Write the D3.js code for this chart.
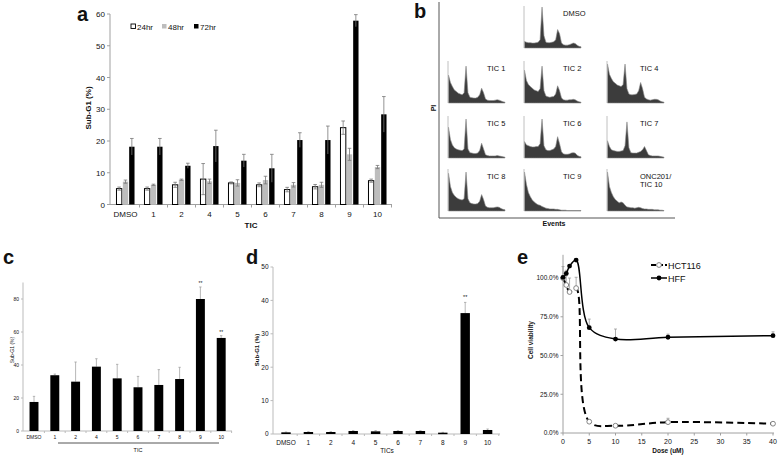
<!DOCTYPE html>
<html><head><meta charset="utf-8">
<script src="https://cdn.jsdelivr.net/npm/d3@7"></script>
<style>body{margin:0;background:#fff} text{font-family:"Liberation Sans",Arial,sans-serif;fill:#111}</style>
</head><body><svg id="fig" width="778" height="455"></svg>
<script>
// ---------- Panel a data ----------
const catsA = ["DMSO","1","2","4","5","6","7","8","9","10"];
const seriesA = ["24hr","48hr","72hr"];
const a24 = [5.0,5.0,6.2,8.0,6.8,6.2,4.7,5.6,24.2,7.5];
const a24err = [0.5,0.5,0.8,4.9,0.3,0.6,0.7,0.7,2.1,0.5];
const a48 = [7.2,6.2,7.8,7.3,6.8,7.7,6.2,6.2,15.8,11.8];
const a48err = [0.5,0.2,0.2,0.7,1.0,1.2,0.7,0.8,1.9,0.5];
const a72 = [18.2,18.2,12.2,18.4,13.8,11.4,20.3,20.3,57.9,28.4];
const a72err = [2.6,2.6,0.8,5.0,2.0,4.4,2.3,4.4,1.9,5.6];
const ticksA = [0,10,20,30,40,50,60];

// ---------- Panel b data (histogram heights, relative) ----------
const histNames = ["DMSO","TIC 1","TIC 2","TIC 4","TIC 5","TIC 6","TIC 7","TIC 8","TIC 9","ONC201/|TIC 10"];
const hDMSO = [0.16,0.14,0.13,0.13,0.12,0.12,0.13,0.14,0.2,1.0,0.3,0.14,0.13,0.13,0.14,0.15,0.2,0.45,0.35,0.12,0.08,0.07,0.07,0.08,0.10,0.12,0.11,0.07,0.04,0.03];
const hTIC1 = [0.68,0.5,0.4,0.32,0.28,0.24,0.22,0.2,0.25,0.9,0.25,0.14,0.13,0.12,0.12,0.14,0.2,0.36,0.25,0.1,0.07,0.06,0.06,0.06,0.07,0.08,0.07,0.05,0.03,0.02];
const hTIC2 = [0.8,0.55,0.45,0.4,0.36,0.32,0.3,0.28,0.35,0.9,0.3,0.17,0.15,0.14,0.15,0.16,0.22,0.42,0.3,0.12,0.08,0.07,0.07,0.08,0.08,0.09,0.08,0.05,0.03,0.02];
const hTIC4 = [0.95,0.7,0.6,0.52,0.48,0.44,0.42,0.4,0.45,0.95,0.35,0.22,0.2,0.2,0.21,0.22,0.3,0.5,0.35,0.14,0.1,0.08,0.07,0.08,0.09,0.09,0.08,0.05,0.03,0.02];
const hTIC5 = [0.75,0.45,0.32,0.25,0.22,0.2,0.19,0.18,0.22,0.95,0.22,0.13,0.12,0.11,0.11,0.12,0.18,0.36,0.22,0.08,0.06,0.05,0.05,0.05,0.05,0.06,0.05,0.04,0.03,0.02];
const hTIC6 = [0.4,0.32,0.3,0.28,0.27,0.27,0.28,0.28,0.35,0.95,0.3,0.2,0.18,0.18,0.2,0.22,0.28,0.52,0.35,0.15,0.1,0.09,0.09,0.1,0.12,0.13,0.12,0.07,0.04,0.03];
const hTIC7 = [0.42,0.28,0.2,0.18,0.17,0.16,0.16,0.17,0.18,0.3,0.88,0.25,0.13,0.12,0.12,0.12,0.14,0.16,0.2,0.28,0.18,0.08,0.06,0.05,0.05,0.05,0.05,0.04,0.03,0.02];
const hTIC8 = [0.92,0.6,0.45,0.38,0.33,0.3,0.28,0.27,0.3,0.95,0.3,0.2,0.18,0.17,0.17,0.18,0.24,0.4,0.28,0.12,0.09,0.08,0.08,0.08,0.09,0.1,0.09,0.06,0.04,0.03];
const hTIC9 = [0.95,0.65,0.45,0.35,0.27,0.22,0.18,0.15,0.14,0.11,0.09,0.07,0.06,0.05,0.05,0.05,0.04,0.04,0.03,0.02,0.02,0.02,0.01,0.01,0.01,0.01,0.01,0.01,0.01,0.01];
const hTIC10 = [0.95,0.6,0.45,0.35,0.28,0.24,0.2,0.22,0.2,0.14,0.1,0.09,0.08,0.08,0.07,0.08,0.09,0.08,0.06,0.05,0.05,0.04,0.04,0.04,0.03,0.03,0.03,0.02,0.02,0.01];
const histData = [hDMSO,hTIC1,hTIC2,hTIC4,hTIC5,hTIC6,hTIC7,hTIC8,hTIC9,hTIC10];

// ---------- Panel c data ----------
const catsC = ["DMSO","1","2","4","5","6","7","8","9","10"];
const valsC = [17.6,33.8,29.9,39.0,31.9,26.5,27.9,31.5,80.0,56.4];
const errC = [3.4,0.7,11.9,4.8,8.5,6.6,9.3,7.1,7.3,1.4];
const sigC = ["","","","","","","","","**","**"];
const ticksC = [0,20,40,60,80];

// ---------- Panel d data ----------
const catsD = ["DMSO","1","2","4","5","6","7","8","9","10"];
const valsD = [0.5,0.6,0.6,0.9,0.8,0.9,0.9,0.4,36.2,1.2];
const errD = [0.1,0.1,0.1,0.1,0.2,0.1,0.1,0.1,3.2,0.3];
const sigD = ["","","","","","","","","**",""];
const ticksD = [0,10,20,30,40,50];

// ---------- Panel e data ----------
const doses = [0,0.625,1.25,2.5,5,10,20,40];
const hct116 = [100,95.5,91,93.5,7.3,4.7,7.0,6.0];
const hct116Err = [0,6,9,7,1,0.5,2.5,1];
const hff = [100.4,103,107.7,111.6,68,60.6,61.8,62.8];
const hffErr = [7,2,1,1,5.5,6.5,2,2.5];
const ticksEy = [0,25,50,75,100];
const ticksEx = [0,5,10,15,20,25,30,35,40];

const svg = d3.select("#fig");
const axisCol = "#a0a0a0";

function letter(txt,x,y){
  svg.append("text").attr("x",x).attr("y",y).attr("font-size",20).attr("font-weight","bold").text(txt);
}

// ================= Panel a =================
{
  const g = svg.append("g");
  const x = d3.scaleBand().domain(catsA).range([111.5,391.5]).paddingInner(0.32).paddingOuter(0.16);
  const xi = d3.scaleBand().domain(seriesA).range([0,x.bandwidth()]);
  const y = d3.scaleLinear().domain([0,60]).range([204.5,14]);
  const vals = [a24,a48,a72], errs=[a24err,a48err,a72err];
  const fills = ["#fff","#bdbdbd","#000"];
  // axes
  g.append("line").attr("x1",110).attr("x2",110).attr("y1",y(60)).attr("y2",y(0)).attr("stroke",axisCol);
  g.append("line").attr("x1",110).attr("x2",392).attr("y1",y(0)).attr("y2",y(0)).attr("stroke",axisCol);
  ticksA.forEach(t=>{
    g.append("line").attr("x1",107).attr("x2",110).attr("y1",y(t)).attr("y2",y(t)).attr("stroke",axisCol);
    g.append("text").attr("x",105).attr("y",y(t)+3).attr("text-anchor","end").attr("font-size",8).text(t);
  });
  const step = x.step();
  catsA.forEach((c,i)=>{
    const bx = x(c) - step*0.16 + step; // boundary to right
    g.append("line").attr("x1",111.5+step*(i+1)).attr("x2",111.5+step*(i+1)).attr("y1",y(0)).attr("y2",y(0)+3).attr("stroke",axisCol);
    g.append("text").attr("x",x(c)+x.bandwidth()/2).attr("y",217).attr("text-anchor","middle").attr("font-size",8).text(c);
  });
  seriesA.forEach((s,k)=>{
    catsA.forEach((c,i)=>{
      const v = vals[k][i], e = errs[k][i];
      const bx = x(c)+xi(s), bw = xi.bandwidth();
      g.append("rect").attr("x",bx+0.5).attr("y",y(v)).attr("width",bw-1).attr("height",y(0)-y(v))
        .attr("fill",fills[k]).attr("stroke",k===0?"#000":"none").attr("stroke-width",1);
      const cx = bx+bw/2;
      g.append("line").attr("x1",cx).attr("x2",cx).attr("y1",y(v+e)).attr("y2",y(Math.max(0,v-e))).attr("stroke","#777").attr("stroke-width",0.8);
      g.append("line").attr("x1",cx-1.8).attr("x2",cx+1.8).attr("y1",y(v+e)).attr("y2",y(v+e)).attr("stroke","#777").attr("stroke-width",0.8);
      if(k<2) g.append("line").attr("x1",cx-1.8).attr("x2",cx+1.8).attr("y1",y(v-e)).attr("y2",y(v-e)).attr("stroke","#777").attr("stroke-width",0.8);
    });
  });
  // legend
  const lx = [131,162,194];
  seriesA.forEach((s,k)=>{
    g.append("rect").attr("x",lx[k]).attr("y",24).attr("width",4.5).attr("height",4.5).attr("fill",fills[k]).attr("stroke",k===0?"#000":"none").attr("stroke-width",0.9);
    g.append("text").attr("x",lx[k]+6).attr("y",29.5).attr("font-size",8).text(s);
  });
  g.append("text").attr("transform","translate(91,108) rotate(-90)").attr("text-anchor","middle").attr("font-size",8).attr("font-weight","bold").text("Sub-G1 (%)");
  g.append("text").attr("x",251).attr("y",228).attr("text-anchor","middle").attr("font-size",8).attr("font-weight","bold").text("TIC");
  letter("a",77,21);
}

// ================= Panel b =================
{
  const g = svg.append("g");
  g.append("line").attr("x1",439).attr("x2",439).attr("y1",2).attr("y2",218).attr("stroke","#555");
  g.append("line").attr("x1",439).attr("x2",675).attr("y1",218).attr("y2",218).attr("stroke","#555");
  g.append("text").attr("transform","translate(436,108) rotate(-90)").attr("text-anchor","middle").attr("font-size",7).attr("font-weight","bold").text("PI");
  g.append("text").attr("x",554).attr("y",226).attr("text-anchor","middle").attr("font-size",7).attr("font-weight","bold").text("Events");
  const colsX = [448,524,607];
  const rowsY = [7,62,117,170];
  const pos = [[1,0],[0,1],[1,1],[2,1],[0,2],[1,2],[2,2],[0,3],[1,3],[2,3]];
  const W = 57, H = 41;
  histData.forEach((d,i)=>{
    const x0 = colsX[pos[i][0]], y0 = rowsY[pos[i][1]];
    const hx = d3.scaleLinear().domain([0,d.length-1]).range([x0+0.5,x0+W]);
    const hy = d3.scaleLinear().domain([0,1]).range([y0+H,y0]);
    const area = d3.area().x((v,j)=>hx(j)).y0(y0+H).y1(v=>hy(v)).curve(d3.curveLinear);
    g.append("path").attr("d",area(d)).attr("fill","#3c3c3c").attr("stroke","#8a8a8a").attr("stroke-width",0.6);
    g.append("line").attr("x1",x0).attr("x2",x0).attr("y1",y0-1).attr("y2",y0+H).attr("stroke","#b0b0b0").attr("stroke-width",0.8);
    const lines = histNames[i].split("|");
    lines.forEach((t,k)=>{
      g.append("text").attr("x",x0+(i===3||i===6||i===9?33:39)).attr("y",y0+9+k*8).attr("font-size",7.5).text(t);
    });
  });
  letter("b",414,18);
}

// ================= Panel c =================
{
  const g = svg.append("g");
  const x = d3.scaleBand().domain(catsC).range([23.6,231.6]).paddingInner(0.57).paddingOuter(0.285);
  const y = d3.scaleLinear().domain([0,90]).range([431,282.5]);
  g.append("line").attr("x1",23).attr("x2",23).attr("y1",y(90)).attr("y2",y(0)).attr("stroke","#bbb");
  g.append("line").attr("x1",23).attr("x2",232).attr("y1",y(0)).attr("y2",y(0)).attr("stroke","#bbb");
  ticksC.forEach(t=>{
    g.append("line").attr("x1",21).attr("x2",23).attr("y1",y(t)).attr("y2",y(t)).attr("stroke","#bbb");
    g.append("text").attr("x",19).attr("y",y(t)+1.8).attr("text-anchor","end").attr("font-size",5).attr("fill","#444").text(t);
  });
  const step = x.step();
  catsC.forEach((c,i)=>{
    g.append("line").attr("x1",23.6+step*(i+1)).attr("x2",23.6+step*(i+1)).attr("y1",y(0)).attr("y2",y(0)+2).attr("stroke","#bbb");
    g.append("text").attr("x",x(c)+x.bandwidth()/2).attr("y",439).attr("text-anchor","middle").attr("font-size",5).attr("fill","#444").text(c);
    const v=valsC[i], e=errC[i], cx=x(c)+x.bandwidth()/2;
    g.append("line").attr("x1",cx).attr("x2",cx).attr("y1",y(v+e)).attr("y2",y(v)).attr("stroke","#999").attr("stroke-width",0.7);
    g.append("line").attr("x1",cx-1.2).attr("x2",cx+1.2).attr("y1",y(v+e)).attr("y2",y(v+e)).attr("stroke","#999").attr("stroke-width",0.7);
    g.append("rect").attr("x",x(c)).attr("y",y(v)).attr("width",x.bandwidth()).attr("height",y(0)-y(v)).attr("fill","#000");
    if(sigC[i]) g.append("text").attr("x",cx).attr("y",y(v+e)-1.5).attr("text-anchor","middle").attr("font-size",5).attr("fill","#444").text(sigC[i]);
  });
  g.append("line").attr("x1",58).attr("x2",219).attr("y1",443).attr("y2",443).attr("stroke","#555").attr("stroke-width",1);
  g.append("text").attr("x",138).attr("y",451.5).attr("text-anchor","middle").attr("font-size",5.5).text("TIC");
  g.append("text").attr("transform","translate(13.5,350) rotate(-90)").attr("text-anchor","middle").attr("font-size",5).attr("fill","#333").text("Sub-G1 (%)");
  letter("c",3,264);
}

// ================= Panel d =================
{
  const g = svg.append("g");
  const x = d3.scaleBand().domain(catsD).range([274.8,498.8]).paddingInner(0.58).paddingOuter(0.29);
  const y = d3.scaleLinear().domain([0,50]).range([434,267]);
  g.append("line").attr("x1",273).attr("x2",273).attr("y1",y(50)).attr("y2",y(0)).attr("stroke","#bbb");
  g.append("line").attr("x1",273).attr("x2",500).attr("y1",y(0)).attr("y2",y(0)).attr("stroke","#bbb");
  ticksD.forEach(t=>{
    g.append("line").attr("x1",270.5).attr("x2",273).attr("y1",y(t)).attr("y2",y(t)).attr("stroke","#bbb");
    g.append("text").attr("x",268.5).attr("y",y(t)+2.3).attr("text-anchor","end").attr("font-size",6.5).text(t);
  });
  const step = x.step();
  catsD.forEach((c,i)=>{
    g.append("line").attr("x1",274.8+step*(i+1)).attr("x2",274.8+step*(i+1)).attr("y1",y(0)).attr("y2",y(0)+2).attr("stroke","#bbb");
    g.append("text").attr("x",x(c)+x.bandwidth()/2).attr("y",444.5).attr("text-anchor","middle").attr("font-size",6.5).text(c);
    const v=valsD[i], e=errD[i], cx=x(c)+x.bandwidth()/2;
    g.append("line").attr("x1",cx).attr("x2",cx).attr("y1",y(v+e)).attr("y2",y(v)).attr("stroke","#999").attr("stroke-width",0.7);
    g.append("line").attr("x1",cx-1.2).attr("x2",cx+1.2).attr("y1",y(v+e)).attr("y2",y(v+e)).attr("stroke","#999").attr("stroke-width",0.7);
    g.append("rect").attr("x",x(c)).attr("y",y(v)).attr("width",x.bandwidth()).attr("height",Math.max(1.5,y(0)-y(v))).attr("fill","#000");
    if(sigD[i]) g.append("text").attr("x",cx).attr("y",y(v+e)-3).attr("text-anchor","middle").attr("font-size",5.5).attr("fill","#444").text(sigD[i]);
  });
  g.append("text").attr("x",387).attr("y",453).attr("text-anchor","middle").attr("font-size",6.5).text("TICs");
  g.append("text").attr("transform","translate(258.5,350) rotate(-90)").attr("text-anchor","middle").attr("font-size",6).attr("font-weight","bold").text("Sub-G1 (%)");
  letter("d",246,264);
}

// ================= Panel e =================
{
  const g = svg.append("g");
  const x = d3.scaleLinear().domain([0,40]).range([563,773]);
  const y = d3.scaleLinear().domain([0,115]).range([433,254.8]);
  g.append("line").attr("x1",563).attr("x2",563).attr("y1",y(115)).attr("y2",y(0)).attr("stroke",axisCol);
  g.append("line").attr("x1",563).attr("x2",774).attr("y1",y(0)).attr("y2",y(0)).attr("stroke",axisCol);
  ticksEy.forEach(t=>{
    g.append("line").attr("x1",560.5).attr("x2",563).attr("y1",y(t)).attr("y2",y(t)).attr("stroke",axisCol);
    g.append("text").attr("x",558.5).attr("y",y(t)+2.3).attr("text-anchor","end").attr("font-size",6.5).text(t.toFixed(1)+"%");
  });
  ticksEx.forEach(t=>{
    g.append("line").attr("x1",x(t)).attr("x2",x(t)).attr("y1",y(0)).attr("y2",y(0)+2.5).attr("stroke",axisCol);
    g.append("text").attr("x",x(t)).attr("y",443.5).attr("text-anchor","middle").attr("font-size",7).text(t);
  });
  // error bars
  function errs(vals,e){
    doses.forEach((d,i)=>{
      if(e[i]<=0) return;
      g.append("line").attr("x1",x(d)).attr("x2",x(d)).attr("y1",y(vals[i])).attr("y2",y(vals[i]+e[i])).attr("stroke","#999").attr("stroke-width",0.8);
      g.append("line").attr("x1",x(d)-1.5).attr("x2",x(d)+1.5).attr("y1",y(vals[i]+e[i])).attr("y2",y(vals[i]+e[i])).attr("stroke","#999").attr("stroke-width",0.8);
    });
  }
  errs(hct116,hct116Err); errs(hff,hffErr);
  const line = d3.line().x((v,i)=>x(doses[i])).y(v=>y(v)).curve(d3.curveCatmullRom.alpha(0.5));
  g.append("path").attr("d",line(hct116)).attr("fill","none").attr("stroke","#000").attr("stroke-width",2).attr("stroke-dasharray","7,4");
  g.append("path").attr("d",line(hff)).attr("fill","none").attr("stroke","#000").attr("stroke-width",1.5);
  doses.forEach((d,i)=>{
    g.append("circle").attr("cx",x(d)).attr("cy",y(hct116[i])).attr("r",2.4).attr("fill","#fff").attr("stroke","#777").attr("stroke-width",0.9);
  });
  doses.forEach((d,i)=>{
    g.append("circle").attr("cx",x(d)).attr("cy",y(hff[i])).attr("r",2.4).attr("fill","#000");
  });
  // legend
  g.append("line").attr("x1",651).attr("x2",667).attr("y1",265).attr("y2",265).attr("stroke","#000").attr("stroke-width",2).attr("stroke-dasharray","5,2");
  g.append("circle").attr("cx",659).attr("cy",265).attr("r",2.4).attr("fill","#fff").attr("stroke","#777").attr("stroke-width",0.9);
  g.append("text").attr("x",668).attr("y",268.5).attr("font-size",9).text("HCT116");
  g.append("line").attr("x1",651).attr("x2",667).attr("y1",278).attr("y2",278).attr("stroke","#000").attr("stroke-width",1.5);
  g.append("circle").attr("cx",659).attr("cy",278).attr("r",2.4).attr("fill","#000");
  g.append("text").attr("x",668).attr("y",281.5).attr("font-size",9).text("HFF");
  g.append("text").attr("transform","translate(533,340) rotate(-90)").attr("text-anchor","middle").attr("font-size",6.5).attr("font-weight","bold").text("Cell viability");
  g.append("text").attr("x",668).attr("y",453).attr("text-anchor","middle").attr("font-size",6.5).attr("font-weight","bold").text("Dose (uM)");
  letter("e",517,264);
}
</script></body></html>
